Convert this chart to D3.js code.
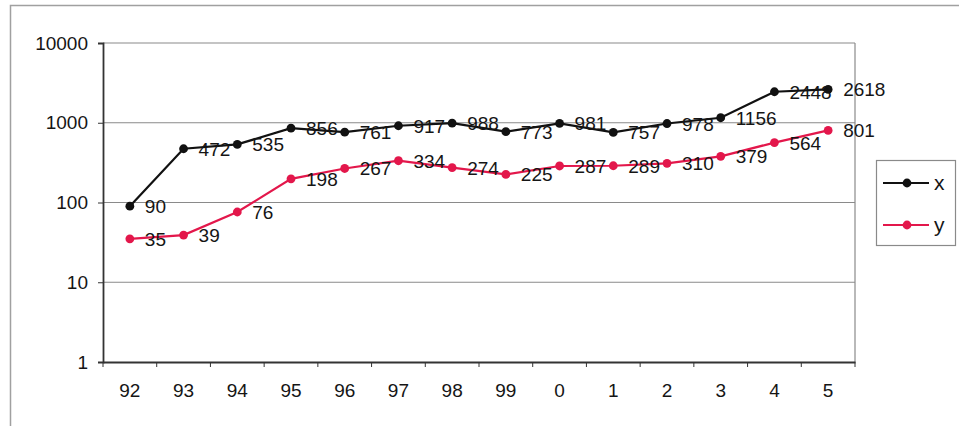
<!DOCTYPE html>
<html>
<head>
<meta charset="utf-8">
<script src="https://cdn.jsdelivr.net/npm/d3@7"></script>
<style>
  body { margin: 0; background: #fff; }
  svg { display: block; font-family: "Liberation Sans", Arial, sans-serif; }
</style>
</head>
<body>
<div id="chart"></div>
<script>
// --- données ---
const years = ["92", "93", "94", "95", "96", "97", "98", "99", "0", "1", "2", "3", "4", "5"];
const xValues = [90, 472, 535, 856, 761, 917, 988, 773, 981, 757, 978, 1156, 2448, 2618];
const yValues = [35, 39, 76, 198, 267, 334, 274, 225, 287, 289, 310, 379, 564, 801];
const yTicks = [1, 10, 100, 1000, 10000];

const series = [
    {name: "x", values: xValues, color: "#111111"},
    {name: "y", values: yValues, color: "#e3174b"}
];

const size = {width: 959, height: 426};
const margin = {top: 43, right: 104, bottom: 64, left: 103};
const width = size.width - margin.left - margin.right;
const height = size.height - margin.top - margin.bottom;

const svg = d3.select("#chart").append("svg")
    .attr("width", size.width)
    .attr("height", size.height);

// cadre extérieur
svg.append("rect")
    .attr("x", 10.5).attr("y", 5.5)
    .attr("width", 1000).attr("height", 1000)
    .attr("fill", "none")
    .attr("stroke", "#a0a0a0")
    .attr("stroke-width", 1.5);

const g = svg.append("g")
    .attr("transform", "translate(" + margin.left + "," + margin.top + ")");

const xScale = d3.scaleBand().domain(years).range([0, width]);
const yScale = d3.scaleLog().domain([1, 10000]).range([height, 0]);

// grille
g.selectAll(".grid")
    .data(yTicks.slice(1))
    .join("line")
    .attr("class", "grid")
    .attr("x1", 0).attr("x2", width)
    .attr("y1", d => yScale(d)).attr("y2", d => yScale(d))
    .attr("stroke", "#8a8a8a")
    .attr("stroke-width", 1.2);

// bord droit
g.append("line")
    .attr("x1", width).attr("x2", width)
    .attr("y1", 0).attr("y2", height)
    .attr("stroke", "#8a8a8a")
    .attr("stroke-width", 1.2);

// axe y
const yAxis = g.append("g")
    .call(d3.axisLeft(yScale).tickValues(yTicks).tickFormat(d3.format("d")).tickSize(5).tickPadding(10));
yAxis.select(".domain").attr("stroke", "#333").attr("stroke-width", 1.8);
yAxis.selectAll(".tick line").attr("stroke", "#333");
yAxis.selectAll("text").attr("font-size", 19).attr("fill", "#151515");

// axe x
const xAxis = g.append("g")
    .attr("transform", "translate(0," + height + ")")
    .call(d3.axisBottom(xScale).tickSize(0).tickPadding(22));
xAxis.select(".domain").attr("stroke", "#333").attr("stroke-width", 2.2);
xAxis.selectAll("text").attr("font-size", 19).attr("fill", "#151515");

// graduations entre catégories
g.selectAll(".xtick")
    .data(years.concat([null]))
    .join("line")
    .attr("class", "xtick")
    .attr("x1", (d, i) => i * xScale.step()).attr("x2", (d, i) => i * xScale.step())
    .attr("y1", height).attr("y2", height + 5)
    .attr("stroke", "#333");

const cx = (d, i) => xScale(years[i]) + xScale.bandwidth() / 2;
const line = d3.line().x(cx).y(d => yScale(d));

series.forEach(s => {
    const sg = g.append("g");
    sg.append("path")
        .datum(s.values)
        .attr("d", line)
        .attr("fill", "none")
        .attr("stroke", s.color)
        .attr("stroke-width", 2.2);
    sg.selectAll("circle")
        .data(s.values)
        .join("circle")
        .attr("cx", cx)
        .attr("cy", d => yScale(d))
        .attr("r", 4.4)
        .attr("fill", s.color);
    sg.selectAll("text")
        .data(s.values)
        .join("text")
        .attr("x", (d, i) => cx(d, i) + 15)
        .attr("y", d => yScale(d) + 7)
        .attr("font-size", 19)
        .attr("fill", "#151515")
        .text(d => d);
});

// légende
const legend = svg.append("g").attr("transform", "translate(876,160)");
legend.append("rect")
    .attr("x", 0.5).attr("y", 0.5)
    .attr("width", 79).attr("height", 85)
    .attr("fill", "#fff")
    .attr("stroke", "#8a8a8a")
    .attr("stroke-width", 1.2);
series.forEach((s, i) => {
    const ly = 23 + i * 42;
    legend.append("line")
        .attr("x1", 7).attr("x2", 53)
        .attr("y1", ly).attr("y2", ly)
        .attr("stroke", s.color).attr("stroke-width", 2.2);
    legend.append("circle")
        .attr("cx", 31).attr("cy", ly).attr("r", 4.4)
        .attr("fill", s.color);
    legend.append("text")
        .attr("x", 58).attr("y", ly + 7)
        .attr("font-size", 21)
        .attr("fill", "#151515")
        .text(s.name);
});
</script>
</body>
</html>
